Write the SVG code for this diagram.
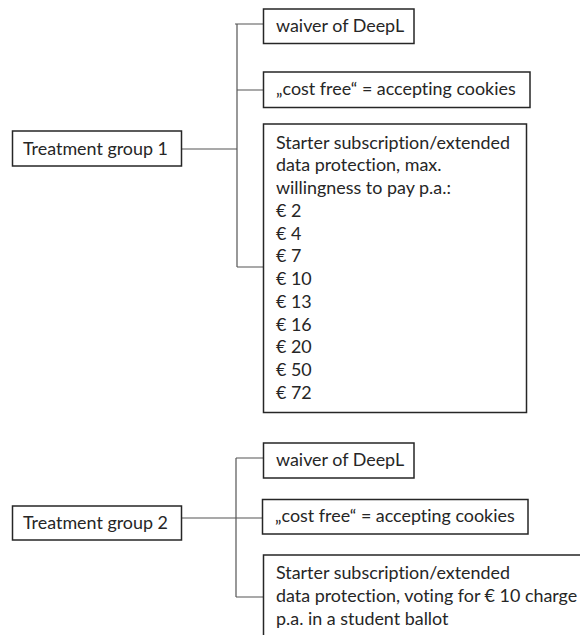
<svg xmlns="http://www.w3.org/2000/svg" width="580" height="635" viewBox="0 0 580 635">
<style>
.box{fill:#fff;stroke:#262626;stroke-width:1.5}
.t{font-family:Lato,"Open Sans",sans-serif;font-size:17.9px;fill:#262626;font-variant-ligatures:none}
.c{fill:none;stroke:#555;stroke-width:1.2}
</style>
<rect width="580" height="635" fill="#fff"/>
<g id="connectors">
<path class="c" d="M182,149 H237 M237,24 V267 M235,24 H263 M237,90 H263 M237,267 H263"/>
<path class="c" d="M182,518 H262 M236,458 V597 M236,458 H263 M236,597 H263"/>
</g>
<g id="tg1"><rect class="box" x="12.5" y="131" width="169" height="35"/><text class="t" x="23" y="155">Treatment group 1</text></g>
<g id="g1-waiver"><rect class="box" x="263.5" y="9" width="150.5" height="34.5"/><text class="t" x="276" y="32">waiver of DeepL</text></g>
<g id="g1-cookies"><rect class="box" x="263.5" y="72" width="266.5" height="35.5"/><text class="t" x="276" y="95">„cost free“ = accepting cookies</text></g>
<g id="g1-starter"><rect class="box" x="263.5" y="124" width="263" height="288.5"/>
<text class="t" x="276" y="148.5">Starter subscription/extended</text>
<text class="t" x="276" y="171.2">data protection, max.</text>
<text class="t" x="276" y="194">willingness to pay p.a.:</text>
<text class="t" x="276" y="216.7">€ 2</text>
<text class="t" x="276" y="239.5">€ 4</text>
<text class="t" x="276" y="262.2">€ 7</text>
<text class="t" x="276" y="285">€ 10</text>
<text class="t" x="276" y="307.7">€ 13</text>
<text class="t" x="276" y="330.5">€ 16</text>
<text class="t" x="276" y="353.2">€ 20</text>
<text class="t" x="276" y="376">€ 50</text>
<text class="t" x="276" y="398.7">€ 72</text>
</g>
<g id="tg2"><rect class="box" x="12.5" y="506" width="169" height="34"/><text class="t" x="23" y="529">Treatment group 2</text></g>
<g id="g2-waiver"><rect class="box" x="263.5" y="443" width="150.5" height="35"/><text class="t" x="276" y="466">waiver of DeepL</text></g>
<g id="g2-cookies"><rect class="box" x="262.5" y="499.5" width="265.5" height="34.5"/><text class="t" x="275" y="522">„cost free“ = accepting cookies</text></g>
<g id="g2-starter"><rect class="box" x="263.5" y="555" width="330" height="100"/>
<text class="t" x="276" y="579">Starter subscription/extended</text>
<text class="t" x="276" y="602">data protection, voting for € 10 charge</text>
<text class="t" x="276" y="624.5">p.a. in a student ballot</text>
</g>
</svg>
